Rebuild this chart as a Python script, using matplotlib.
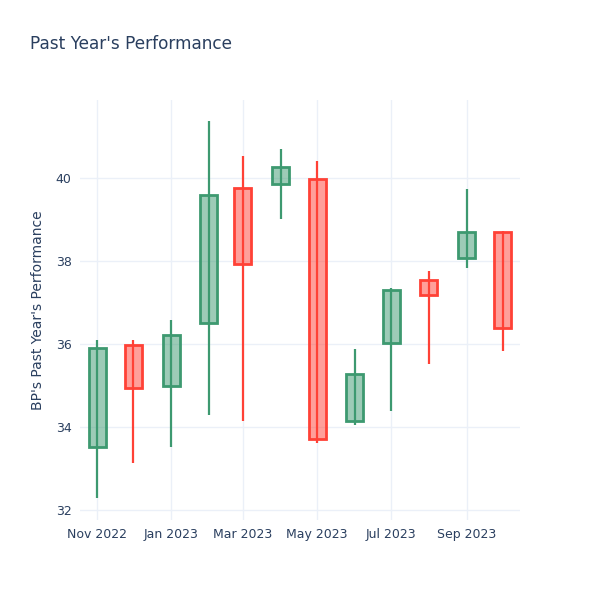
import datetime as dt
import matplotlib
matplotlib.use("Agg")
import matplotlib.pyplot as plt
import matplotlib.dates as mdates

# monthly candles
months = ["2022-11-01", "2022-12-01", "2023-01-01", "2023-02-01", "2023-03-01", "2023-04-01",
          "2023-05-01", "2023-06-01", "2023-07-01", "2023-08-01", "2023-09-01", "2023-10-01"]
opens = [33.53, 35.98, 35.00, 36.50, 39.77, 39.86, 39.98, 34.14, 36.02, 37.55, 38.08, 38.71]
highs = [36.10, 36.10, 36.58, 41.37, 40.54, 40.69, 40.41, 35.87, 37.36, 37.76, 39.73, 38.73]
lows = [32.28, 33.14, 33.53, 34.29, 34.14, 39.01, 33.62, 34.06, 34.39, 35.53, 37.82, 35.84]
closes = [35.90, 34.93, 36.22, 39.59, 37.94, 40.27, 33.71, 35.28, 37.29, 37.19, 38.71, 36.39]

up_col = "#3D9970"
down_col = "#FF4136"
text_col = "#2a3f5f"
grid_col = "#EBF0F8"

dates = [dt.datetime.strptime(m, "%Y-%m-%d") for m in months]
x = mdates.date2num(dates)

fig = plt.figure(figsize=(6, 6), dpi=100)
ax = fig.add_axes([80 / 600, 80 / 600, 440 / 600, 420 / 600])

w = 14  # box width in days
for xi, o, h, l, c in zip(x, opens, highs, lows, closes):
    col = up_col if c >= o else down_col
    ax.vlines(xi, l, h, color=col, lw=1.6, zorder=2)
    lo, hi = min(o, c), max(o, c)
    ax.bar(xi, hi - lo, bottom=lo, width=w, facecolor=col, alpha=0.5, zorder=3)
    ax.bar(xi, hi - lo, bottom=lo, width=w, facecolor="none", edgecolor=col, lw=2, zorder=4)

ax.set_xlim(mdates.date2num(dt.datetime(2022, 10, 18)), mdates.date2num(dt.datetime(2023, 10, 15)))
ax.set_ylim(31.76, 41.88)
ax.set_yticks([32, 34, 36, 38, 40])
ax.xaxis.set_major_locator(mdates.MonthLocator(bymonth=[1, 3, 5, 7, 9, 11]))
ax.xaxis.set_major_formatter(mdates.DateFormatter("%b %Y"))

ax.grid(True, color=grid_col, lw=1, zorder=0)
ax.set_axisbelow(True)
for s in ax.spines.values():
    s.set_visible(False)
ax.tick_params(length=0, colors=text_col, labelsize=9, pad=6)

ax.set_ylabel("BP's Past Year's Performance", color=text_col, fontsize=10, labelpad=8)
fig.text(30 / 600, 1 - 44 / 600, "Past Year's Performance", color=text_col, fontsize=12.2, va="center")

fig.savefig("out.png", dpi=100)
